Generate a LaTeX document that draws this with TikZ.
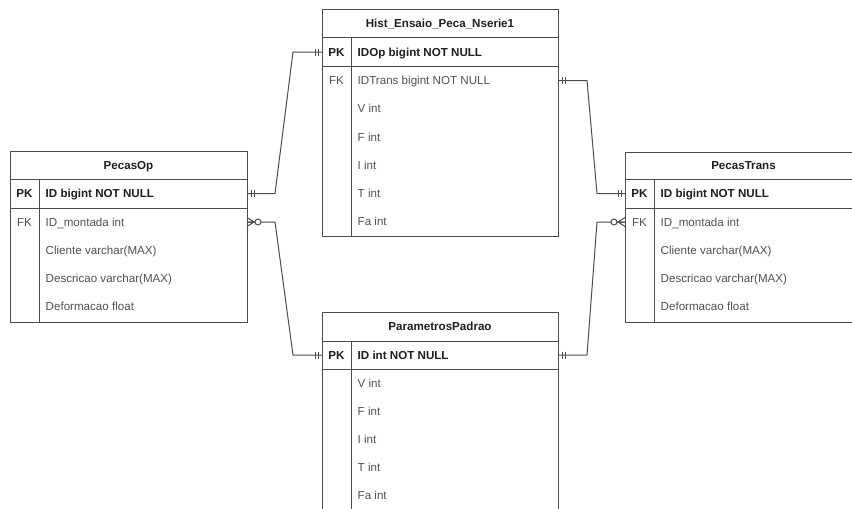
\documentclass[tikz,border=0pt]{standalone}
\usepackage{fontspec}
\setmainfont{Liberation Sans}
\newcommand\erfont{\fontsize{11.6}{13.5}\selectfont}
\tikzset{
  rule/.style={draw=black!70, line width=1pt},
  box/.style={rule, fill=white, inner sep=0, anchor=north west},
  cell/.style={inner sep=0, text height=8.3pt, text depth=0pt},
  titletext/.style={cell, font=\erfont\bfseries, text=black!88},
  keytext/.style={cell, font=\erfont\bfseries, text=black!88},
  fktext/.style={cell, font=\erfont, text=black!68},
  pktext/.style={cell, anchor=west, font=\erfont\bfseries, text=black!88},
  fieldtext/.style={cell, anchor=west, font=\erfont, text=black!68},
  % exactly one: two bars across the line
  onemark/.pic={\draw[rule] (4,-3.5) -- (4,3.5) (7,-3.5) -- (7,3.5);},
  % zero or many: crow's foot and open circle
  manymark/.pic={\draw[rule] (0,-4.5) -- (7,0) -- (0,4.5) (0,0) -- (8,0);
                 \draw[rule, fill=white] (11,0) circle (3);},
}
\begin{document}
\begin{tikzpicture}[x=1pt, y=-1pt]
\useasboundingbox (0,0) rectangle (852,509);
\clip (0,0) rectangle (852,509);

% ---------- PecasOp ----------
\node[box, minimum width=237pt, minimum height=171pt] (op) at (10,151) {};
\draw[rule] (10,179) -- (247,179) (10,208) -- (247,208) (39,179) -- (39,322);
\node[titletext] (op-title) at (128.5,165) {PecasOp};
\node[keytext] (op-pk) at (24.5,193.5) {PK};
\node[pktext] (op-id) at (45.5,193.5) {ID bigint NOT NULL};
\node[fktext] (op-fk) at (24.5,222) {FK};
\node[fieldtext] (op-f1) at (45.5,222) {ID\_montada int};
\node[fieldtext] (op-f2) at (45.5,250) {Cliente varchar(MAX)};
\node[fieldtext] (op-f3) at (45.5,278) {Descricao varchar(MAX)};
\node[fieldtext] (op-f4) at (45.5,306) {Deformacao float};
\coordinate (op-pk-e) at (247,193.5);
\coordinate (op-fk-e) at (247,222);

% ---------- Hist_Ensaio_Peca_Nserie1 ----------
\node[box, minimum width=236pt, minimum height=227pt] (hist) at (322,9) {};
\draw[rule] (322,37) -- (558,37) (322,66) -- (558,66) (351,37) -- (351,236);
\node[titletext] (hist-title) at (440,23) {Hist\_Ensaio\_Peca\_Nserie1};
\node[keytext] (hist-pk) at (336.5,52) {PK};
\node[pktext] (hist-id) at (357.5,52) {IDOp bigint NOT NULL};
\node[fktext] (hist-fk) at (336.5,80.5) {FK};
\node[fieldtext] (hist-f1) at (357.5,80.5) {IDTrans bigint NOT NULL};
\node[fieldtext] (hist-f2) at (357.5,108.7) {V int};
\node[fieldtext] (hist-f3) at (357.5,136.9) {F int};
\node[fieldtext] (hist-f4) at (357.5,165) {I int};
\node[fieldtext] (hist-f5) at (357.5,193.2) {T int};
\node[fieldtext] (hist-f6) at (357.5,221.5) {Fa int};
\coordinate (hist-pk-w) at (322,52);
\coordinate (hist-fk-e) at (558,80.5);

% ---------- PecasTrans ----------
\node[box, minimum width=237pt, minimum height=170pt] (tr) at (625,152) {};
\draw[rule] (625,179) -- (862,179) (625,208) -- (862,208) (654,179) -- (654,322);
\node[titletext] (tr-title) at (743.5,165.5) {PecasTrans};
\node[keytext] (tr-pk) at (639.5,193.5) {PK};
\node[pktext] (tr-id) at (660.5,193.5) {ID bigint NOT NULL};
\node[fktext] (tr-fk) at (639.5,222) {FK};
\node[fieldtext] (tr-f1) at (660.5,222) {ID\_montada int};
\node[fieldtext] (tr-f2) at (660.5,250) {Cliente varchar(MAX)};
\node[fieldtext] (tr-f3) at (660.5,278) {Descricao varchar(MAX)};
\node[fieldtext] (tr-f4) at (660.5,306) {Deformacao float};
\coordinate (tr-pk-w) at (625,193.5);
\coordinate (tr-fk-w) at (625,222);

% ---------- ParametrosPadrao ----------
\node[box, minimum width=236pt, minimum height=220pt] (par) at (322,312) {};
\draw[rule] (322,341) -- (558,341) (322,369) -- (558,369) (351,341) -- (351,532);
\node[titletext] (par-title) at (440,326.5) {ParametrosPadrao};
\node[keytext] (par-pk) at (336.5,355) {PK};
\node[pktext] (par-id) at (357.5,355) {ID int NOT NULL};
\node[fieldtext] (par-f1) at (357.5,383) {V int};
\node[fieldtext] (par-f2) at (357.5,411) {F int};
\node[fieldtext] (par-f3) at (357.5,439) {I int};
\node[fieldtext] (par-f4) at (357.5,467) {T int};
\node[fieldtext] (par-f5) at (357.5,495.5) {Fa int};
\coordinate (par-pk-w) at (322,355);
\coordinate (par-pk-e) at (558,355);

% ---------- relationships ----------
\draw[rule] (op-pk-e) -- ++(28,0) -- ([xshift=-29pt]hist-pk-w) -- (hist-pk-w);
\draw[rule] (op-fk-e) -- ++(28,0) -- ([xshift=-29pt]par-pk-w) -- (par-pk-w);
\draw[rule] (hist-fk-e) -- ++(29,0) -- ([xshift=-28pt]tr-pk-w) -- (tr-pk-w);
\draw[rule] (par-pk-e) -- ++(29,0) -- ([xshift=-28pt]tr-fk-w) -- (tr-fk-w);

\pic at (op-pk-e) {onemark};
\pic[rotate=180] at (hist-pk-w) {onemark};
\pic at (op-fk-e) {manymark};
\pic[rotate=180] at (par-pk-w) {onemark};
\pic at (hist-fk-e) {onemark};
\pic[rotate=180] at (tr-pk-w) {onemark};
\pic at (par-pk-e) {onemark};
\pic[rotate=180] at (tr-fk-w) {manymark};
\end{tikzpicture}
\end{document}
